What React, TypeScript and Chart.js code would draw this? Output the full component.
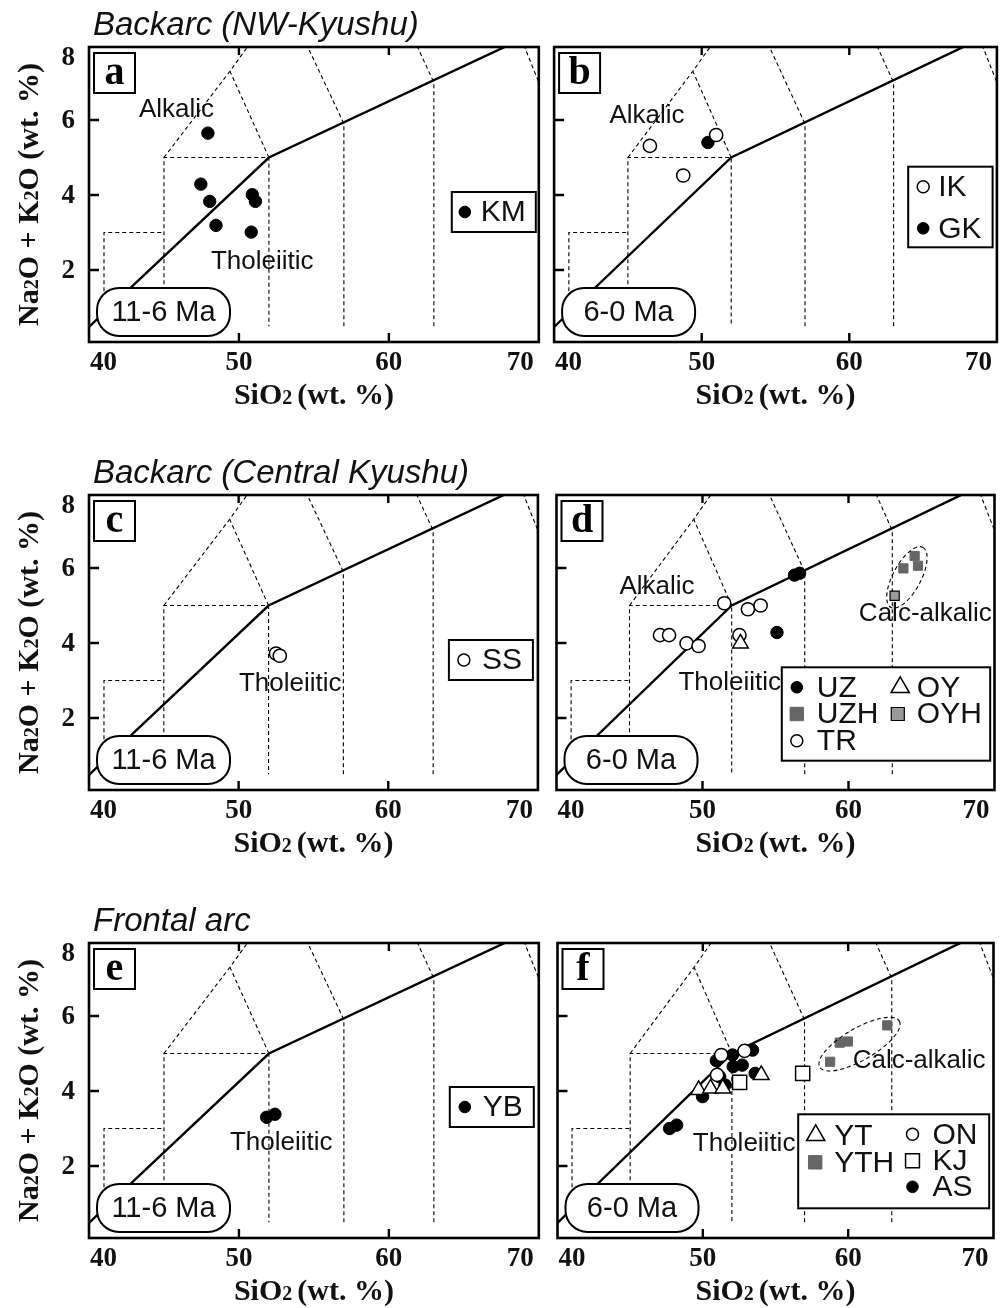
import React, { useEffect, useRef } from 'react';
import { Chart, registerables } from 'chart.js';

Chart.register(...registerables);

// ---- Whole-rock compositions: SiO2 and Na2O + K2O (wt. %) ----
// NW-Kyushu backarc
const KM_SIO2 = [47.93, 47.46, 48.05, 48.47, 50.89, 51.1, 50.82];
const KM_ALK = [5.65, 4.29, 3.83, 3.19, 4.01, 3.83, 3.01];
const IK_SIO2 = [46.49, 48.75, 50.98];
const IK_ALK = [5.31, 4.52, 5.6];
const GK_SIO2 = [50.42];
const GK_ALK = [5.4];
// Central Kyushu backarc
const SS_SIO2 = [52.5, 52.75];
const SS_ALK = [3.72, 3.66];
const UZ_SIO2 = [56.3, 56.65, 55.1];
const UZ_ALK = [5.81, 5.86, 4.28];
const UZH_SIO2 = [63.76, 64.53, 64.76];
const UZH_ALK = [5.99, 6.32, 6.06];
const TR_SIO2 = [47.09, 47.71, 48.91, 49.73, 51.49, 53.11, 53.98, 52.53];
const TR_ALK = [4.21, 4.21, 3.99, 3.92, 5.06, 4.9, 5.0, 4.21];
const OY_SIO2 = [52.6];
const OY_ALK = [3.99];
const OYH_SIO2 = [63.16];
const OYH_ALK = [5.26];
// Frontal arc
const YB_SIO2 = [51.85, 52.4];
const YB_ALK = [3.3, 3.38];
const YT_SIO2 = [49.71, 50.53, 51.38, 54.02];
const YT_ALK = [4.03, 4.07, 4.07, 4.43];
const YTH_SIO2 = [58.76, 59.42, 59.98, 62.69];
const YTH_ALK = [4.78, 5.29, 5.32, 5.75];
const ON_SIO2 = [51.27, 52.87, 50.98];
const ON_ALK = [4.96, 5.07, 4.43];
const KJ_SIO2 = [52.53, 56.87];
const KJ_ALK = [4.23, 4.47];
const AS_SIO2 = [50.93, 52.04, 52.09, 52.71, 53.42, 53.6, 51.16, 51.53, 49.98, 47.71, 48.2];
const AS_ALK = [4.81, 4.96, 4.65, 4.69, 5.09, 4.47, 4.38, 4.16, 3.85, 3.0, 3.09];

// ---- Axes ----
const SIO2_MIN = 40;
const SIO2_MAX = 70;
const ALK_MIN = 0.08;
const ALK_MAX = 7.947;
const SIO2_TICKS = [40, 50, 60, 70];
const ALK_TICKS = [2, 4, 6, 8];

// Le Bas et al. (1986) TAS field boundaries (dashed)
const TAS_BOUNDARIES: [number, number][][] = [
  [[41, 0.5], [41, 3], [45, 3]],
  [[45, 0.5], [45, 5], [52, 5], [52, 0.5]],
  [[45, 5], [49.4, 7.3], [53, 9.3]],
  [[52, 5], [49.4, 7.3]],
  [[57, 0.5], [57, 5.9], [53, 9.3]],
  [[63, 0.5], [63, 7], [57.6, 11.7]],
  [[69, 8], [77, 0]],
];
// Alkalic / tholeiitic divide (solid)
const ALKALIC_DIVIDE: [number, number][] = [[40, 0.48], [52, 5], [68, 8]];

const ROW_TITLES = ['Backarc (NW-Kyushu)', 'Backarc (Central Kyushu)', 'Frontal arc'];

// ---- Page geometry ----
const PLOT_TOP = [47, 495, 943];
const PLOT_H = 295;
const PLOT_LEFT = [89, 552];
const PLOT_W = [450, 449];
const CANVAS_X = [0, 546];
const CANVAS_W = [546, 459];
const CANVAS_Y = [0, 448, 896];
const CANVAS_H = [448, 448, 412];

const SANS = '"Liberation Sans", Arial, Helvetica, sans-serif';
const SERIF = '"Liberation Serif", "Times New Roman", Times, serif';

type Shape = 'circle' | 'triangle' | 'rect';
interface Marker { shape: Shape; r: number; legendR: number; fill: string; stroke: string; lw: number; }

const DOT: Marker = { shape: 'circle', r: 6.2, legendR: 5.8, fill: '#000', stroke: '#000', lw: 1 };
const RING: Marker = { shape: 'circle', r: 6.6, legendR: 6, fill: '#fff', stroke: '#000', lw: 1.5 };
const TRI: Marker = { shape: 'triangle', r: 9, legendR: 10.5, fill: '#fff', stroke: '#000', lw: 1.5 };
const GREY: Marker = { shape: 'rect', r: 6.5, legendR: 9.5, fill: '#666', stroke: '#666', lw: 1 };
const GREY_EDGED: Marker = { shape: 'rect', r: 6.5, legendR: 9.2, fill: '#9a9a9a', stroke: '#000', lw: 1.2 };
const SQUARE: Marker = { shape: 'rect', r: 10, legendR: 9.8, fill: '#fff', stroke: '#000', lw: 1.5 };

interface Suite { label: string; sio2: number[]; alk: number[]; marker: Marker; }
interface Note { text: string; x: number; y: number; }
interface LegendItem { label: string; mx: number; tx: number; ry: number; }
interface LegendBox { right: number; top: number; w: number; h: number; items: LegendItem[]; }
interface Ellipse { x: number; y: number; rx: number; ry: number; rot: number; }
interface PanelSpec {
  letter: string; period: string; row: number; col: number;
  suites: Suite[]; notes: Note[]; legend: LegendBox; ellipse?: Ellipse;
}

// suites are listed back to front
const PANELS: PanelSpec[] = [
  {
    letter: 'a', period: '11-6 Ma', row: 0, col: 0,
    suites: [{ label: 'KM', sio2: KM_SIO2, alk: KM_ALK, marker: DOT }],
    notes: [{ text: 'Alkalic', x: 43.33, y: 6.08 }, { text: 'Tholeiitic', x: 48.13, y: 2.03 }],
    legend: { right: 3, top: 145, w: 84, h: 40, items: [{ label: 'KM', mx: 13, tx: 29, ry: 20 }] },
  },
  {
    letter: 'b', period: '6-0 Ma', row: 0, col: 1,
    suites: [
      { label: 'GK', sio2: GK_SIO2, alk: GK_ALK, marker: DOT },
      { label: 'IK', sio2: IK_SIO2, alk: IK_ALK, marker: RING },
    ],
    notes: [{ text: 'Alkalic', x: 43.75, y: 5.91 }],
    legend: {
      right: 4.3, top: 119.7, w: 84.4, h: 80.6,
      items: [{ label: 'IK', mx: 15, tx: 30, ry: 20 }, { label: 'GK', mx: 15, tx: 30, ry: 61.6 }],
    },
  },
  {
    letter: 'c', period: '11-6 Ma', row: 1, col: 0,
    suites: [{ label: 'SS', sio2: SS_SIO2, alk: SS_ALK, marker: RING }],
    notes: [{ text: 'Tholeiitic', x: 50.02, y: 2.72 }],
    legend: { right: 5, top: 145, w: 84, h: 40, items: [{ label: 'SS', mx: 15, tx: 33, ry: 20 }] },
  },
  {
    letter: 'd', period: '6-0 Ma', row: 1, col: 1,
    suites: [
      { label: 'UZ', sio2: UZ_SIO2, alk: UZ_ALK, marker: DOT },
      { label: 'TR', sio2: TR_SIO2, alk: TR_ALK, marker: RING },
      { label: 'OY', sio2: OY_SIO2, alk: OY_ALK, marker: TRI },
      { label: 'UZH', sio2: UZH_SIO2, alk: UZH_ALK, marker: GREY },
      { label: 'OYH', sio2: OYH_SIO2, alk: OYH_ALK, marker: GREY_EDGED },
    ],
    notes: [
      { text: 'Alkalic', x: 44.31, y: 5.3 },
      { text: 'Tholeiitic', x: 48.35, y: 2.75 },
      { text: 'Calc-alkalic', x: 60.71, y: 4.59 },
    ],
    ellipse: { x: 64.0, y: 5.75, rx: 34, ry: 14, rot: -62 },
    legend: {
      right: 4.3, top: 172.3, w: 208.4, h: 93.4,
      items: [
        { label: 'UZ', mx: 15, tx: 35, ry: 20 },
        { label: 'UZH', mx: 15, tx: 35, ry: 46.7 },
        { label: 'TR', mx: 15, tx: 35, ry: 73.4 },
        { label: 'OY', mx: 118.4, tx: 135, ry: 20 },
        { label: 'OYH', mx: 116, tx: 135, ry: 46.7 },
      ],
    },
  },
  {
    letter: 'e', period: '11-6 Ma', row: 2, col: 0,
    suites: [{ label: 'YB', sio2: YB_SIO2, alk: YB_ALK, marker: DOT }],
    notes: [{ text: 'Tholeiitic', x: 49.4, y: 2.43 }],
    legend: { right: 5, top: 144, w: 84, h: 40, items: [{ label: 'YB', mx: 15, tx: 33, ry: 20 }] },
  },
  {
    letter: 'f', period: '6-0 Ma', row: 2, col: 1,
    suites: [
      { label: 'AS', sio2: AS_SIO2, alk: AS_ALK, marker: DOT },
      { label: 'ON', sio2: ON_SIO2, alk: ON_ALK, marker: RING },
      { label: 'YT', sio2: YT_SIO2, alk: YT_ALK, marker: TRI },
      { label: 'KJ', sio2: KJ_SIO2, alk: KJ_ALK, marker: SQUARE },
      { label: 'YTH', sio2: YTH_SIO2, alk: YTH_ALK, marker: GREY },
    ],
    notes: [
      { text: 'Tholeiitic', x: 49.31, y: 2.41 },
      { text: 'Calc-alkalic', x: 60.31, y: 4.62 },
    ],
    ellipse: { x: 60.78, y: 5.25, rx: 46, ry: 16, rot: -30 },
    legend: {
      right: 4.3, top: 171.3, w: 191, h: 94,
      items: [
        { label: 'YT', mx: 17.5, tx: 36, ry: 21 },
        { label: 'YTH', mx: 17, tx: 36, ry: 48 },
        { label: 'ON', mx: 114.3, tx: 134.3, ry: 20 },
        { label: 'KJ', mx: 114.3, tx: 134.3, ry: 46.5 },
        { label: 'AS', mx: 114.3, tx: 134.3, ry: 72.5 },
      ],
    },
  },
];

function drawMarker(ctx: CanvasRenderingContext2D, m: Marker, x: number, y: number, r: number) {
  ctx.save();
  ctx.beginPath();
  if (m.shape === 'circle') {
    ctx.arc(x, y, r, 0, Math.PI * 2);
  } else if (m.shape === 'triangle') {
    for (let i = 0; i < 3; i++) {
      const a = (i * 2 * Math.PI) / 3;
      const px = x + Math.sin(a) * r;
      const py = y - Math.cos(a) * r;
      if (i === 0) ctx.moveTo(px, py);
      else ctx.lineTo(px, py);
    }
    ctx.closePath();
  } else {
    const s = r * Math.SQRT1_2;
    ctx.rect(x - s, y - s, 2 * s, 2 * s);
  }
  ctx.fillStyle = m.fill;
  ctx.fill();
  ctx.lineWidth = m.lw;
  ctx.strokeStyle = m.stroke;
  ctx.stroke();
  ctx.restore();
}

interface Run { t: string; size: number; }

function runsWidth(ctx: CanvasRenderingContext2D, runs: Run[]) {
  let w = 0;
  for (const r of runs) {
    ctx.font = `bold ${r.size}px ${SERIF}`;
    w += ctx.measureText(r.t).width;
  }
  return w;
}

function drawRuns(ctx: CanvasRenderingContext2D, runs: Run[], cx: number, baseline: number) {
  let x = cx - runsWidth(ctx, runs) / 2;
  ctx.textAlign = 'left';
  ctx.textBaseline = 'alphabetic';
  for (const r of runs) {
    ctx.font = `bold ${r.size}px ${SERIF}`;
    ctx.fillText(r.t, x, baseline);
    x += ctx.measureText(r.t).width;
  }
}

const X_TITLE: Run[] = [{ t: 'SiO', size: 30 }, { t: '2 ', size: 20 }, { t: '(wt. %)', size: 30 }];
const Y_TITLE: Run[] = [
  { t: 'Na', size: 30 }, { t: '2', size: 20 }, { t: 'O + K', size: 30 },
  { t: '2', size: 20 }, { t: 'O (wt. %)', size: 30 },
];

function roundRect(ctx: CanvasRenderingContext2D, x: number, y: number, w: number, h: number, r: number) {
  ctx.beginPath();
  ctx.moveTo(x + r, y);
  ctx.lineTo(x + w - r, y);
  ctx.arcTo(x + w, y, x + w, y + r, r);
  ctx.lineTo(x + w, y + h - r);
  ctx.arcTo(x + w, y + h, x + w - r, y + h, r);
  ctx.lineTo(x + r, y + h);
  ctx.arcTo(x, y + h, x, y + h - r, r);
  ctx.lineTo(x, y + r);
  ctx.arcTo(x, y, x + r, y, r);
  ctx.closePath();
}

function decorPlugin(p: PanelSpec) {
  return {
    id: 'tasDecor',
    afterDatasetsDraw(chart: any) {
      const ctx: CanvasRenderingContext2D = chart.ctx;
      const a = chart.chartArea;
      const xs = chart.scales.x;
      const ys = chart.scales.y;
      const ink = '#111';
      ctx.save();

      // dashed envelope around the calc-alkalic group
      if (p.ellipse) {
        const e = p.ellipse;
        ctx.beginPath();
        ctx.ellipse(xs.getPixelForValue(e.x), ys.getPixelForValue(e.y), e.rx, e.ry, (e.rot * Math.PI) / 180, 0, Math.PI * 2);
        ctx.setLineDash([4, 3]);
        ctx.lineWidth = 1.1;
        ctx.strokeStyle = '#000';
        ctx.stroke();
        ctx.setLineDash([]);
      }

      // series-field names
      ctx.fillStyle = ink;
      ctx.font = `26px ${SANS}`;
      ctx.textAlign = 'left';
      ctx.textBaseline = 'alphabetic';
      for (const n of p.notes) {
        ctx.fillText(n.text, xs.getPixelForValue(n.x), ys.getPixelForValue(n.y));
      }

      // age label
      const pw = 133, ph = 48;
      const px0 = a.left + 8, py0 = a.bottom - 6 - ph;
      roundRect(ctx, px0, py0, pw, ph, 22);
      ctx.fillStyle = '#fff';
      ctx.fill();
      ctx.lineWidth = 2;
      ctx.strokeStyle = '#000';
      ctx.stroke();
      ctx.fillStyle = ink;
      ctx.font = `29px ${SANS}`;
      ctx.textAlign = 'center';
      ctx.textBaseline = 'middle';
      ctx.fillText(p.period, px0 + pw / 2, py0 + ph / 2 + 1);

      // panel letter
      const bx = a.left + 5, by = a.top + 6;
      ctx.fillStyle = '#fff';
      ctx.fillRect(bx, by, 41, 40);
      ctx.lineWidth = 2;
      ctx.strokeRect(bx, by, 41, 40);
      ctx.fillStyle = '#000';
      ctx.font = `bold 40px ${SERIF}`;
      ctx.textAlign = 'center';
      ctx.textBaseline = 'alphabetic';
      ctx.fillText(p.letter, bx + 20.5, by + 31);

      // legend
      const L = p.legend;
      const lx = a.right - L.right - L.w, ly = a.top + L.top;
      ctx.fillStyle = '#fff';
      ctx.fillRect(lx, ly, L.w, L.h);
      ctx.lineWidth = 2;
      ctx.strokeStyle = '#000';
      ctx.strokeRect(lx, ly, L.w, L.h);
      for (const it of L.items) {
        const s = p.suites.find((q) => q.label === it.label)!;
        drawMarker(ctx, s.marker, lx + it.mx, ly + it.ry, s.marker.legendR);
        ctx.fillStyle = ink;
        ctx.font = `30px ${SANS}`;
        ctx.textAlign = 'left';
        ctx.textBaseline = 'middle';
        ctx.fillText(it.label, lx + it.tx, ly + it.ry + 1);
      }

      // frame and inward ticks
      ctx.strokeStyle = '#000';
      ctx.lineWidth = 2.6;
      ctx.strokeRect(a.left, a.top, a.right - a.left, a.bottom - a.top);
      ctx.lineWidth = 2.4;
      ctx.beginPath();
      for (const v of SIO2_TICKS) {
        if (v <= SIO2_MIN || v >= SIO2_MAX) continue;
        const x = xs.getPixelForValue(v);
        ctx.moveTo(x, a.bottom);
        ctx.lineTo(x, a.bottom - 9);
        ctx.moveTo(x, a.top);
        ctx.lineTo(x, a.top + 8);
      }
      for (const v of ALK_TICKS) {
        if (v <= ALK_MIN || v >= ALK_MAX) continue;
        const y = ys.getPixelForValue(v);
        ctx.moveTo(a.left, y);
        ctx.lineTo(a.left + 10, y);
      }
      ctx.stroke();

      // tick labels
      ctx.fillStyle = ink;
      ctx.font = `bold 27px ${SERIF}`;
      ctx.textBaseline = 'middle';
      SIO2_TICKS.forEach((v, i) => {
        let x = xs.getPixelForValue(v);
        if (i === 0) { ctx.textAlign = 'left'; x = a.left + 1; }
        else if (i === SIO2_TICKS.length - 1) { ctx.textAlign = 'right'; x = a.right - 5; }
        else ctx.textAlign = 'center';
        ctx.fillText(String(v), x, a.bottom + 21);
      });
      if (p.col === 0) {
        ctx.textAlign = 'right';
        for (const v of ALK_TICKS) {
          const y = Math.min(Math.max(ys.getPixelForValue(v), a.top + 10), a.bottom - 10);
          ctx.fillText(String(v), a.left - 14, y + 1);
        }
      }

      // axis titles
      ctx.fillStyle = ink;
      drawRuns(ctx, X_TITLE, (a.left + a.right) / 2, a.bottom + 62);
      if (p.col === 0) {
        ctx.save();
        ctx.translate(38, (a.top + a.bottom) / 2);
        ctx.rotate(-Math.PI / 2);
        drawRuns(ctx, Y_TITLE, 0, 0);
        ctx.restore();
        ctx.font = `italic 33px ${SANS}`;
        ctx.textAlign = 'left';
        ctx.textBaseline = 'alphabetic';
        ctx.fillText(ROW_TITLES[p.row], 93, a.top - 12);
      }
      ctx.restore();
    },
  };
}

function buildConfig(p: PanelSpec): any {
  const n = p.suites.length;
  const pointSets = p.suites.map((s, i) => ({
    label: s.label,
    data: s.sio2.map((x, k) => ({ x, y: s.alk[k] })),
    pointStyle: s.marker.shape,
    pointRadius: s.marker.r,
    pointHoverRadius: s.marker.r,
    pointBackgroundColor: s.marker.fill,
    pointBorderColor: s.marker.stroke,
    pointBorderWidth: s.marker.lw,
    backgroundColor: s.marker.fill,
    borderColor: s.marker.stroke,
    showLine: false,
    order: n - i,
  }));
  const lineSet = (pts: [number, number][], dashed: boolean) => ({
    label: dashed ? 'TAS field' : 'Alkalic/tholeiitic divide',
    data: pts.map(([x, y]) => ({ x, y })),
    showLine: true,
    pointRadius: 0,
    pointHoverRadius: 0,
    borderColor: '#000',
    borderWidth: dashed ? 1.1 : 2.4,
    borderDash: dashed ? [4, 3] : [],
    fill: false,
    tension: 0,
    order: dashed ? 200 : 100,
  });
  const col = p.col, row = p.row;
  return {
    type: 'scatter',
    data: {
      datasets: [
        ...pointSets,
        lineSet(ALKALIC_DIVIDE, false),
        ...TAS_BOUNDARIES.map((b) => lineSet(b, true)),
      ],
    },
    options: {
      responsive: false,
      animation: false,
      devicePixelRatio: 1,
      events: [],
      layout: {
        padding: {
          left: PLOT_LEFT[col] - CANVAS_X[col],
          right: CANVAS_X[col] + CANVAS_W[col] - (PLOT_LEFT[col] + PLOT_W[col]),
          top: PLOT_TOP[row] - CANVAS_Y[row],
          bottom: CANVAS_Y[row] + CANVAS_H[row] - (PLOT_TOP[row] + PLOT_H),
        },
      },
      plugins: { legend: { display: false }, tooltip: { enabled: false }, title: { display: false } },
      scales: {
        x: { type: 'linear', min: SIO2_MIN, max: SIO2_MAX, display: false },
        y: { type: 'linear', min: ALK_MIN, max: ALK_MAX, display: false },
      },
    },
    plugins: [decorPlugin(p)],
  };
}

function TasPanel({ spec }: { spec: PanelSpec }) {
  const ref = useRef<HTMLCanvasElement>(null);
  useEffect(() => {
    if (!ref.current) return;
    const chart = new Chart(ref.current, buildConfig(spec));
    return () => chart.destroy();
  }, [spec]);
  const x = CANVAS_X[spec.col], y = CANVAS_Y[spec.row];
  const w = CANVAS_W[spec.col], h = CANVAS_H[spec.row];
  return (
    <canvas
      ref={ref}
      width={w}
      height={h}
      style={{ position: 'absolute', left: x, top: y, width: w, height: h }}
    />
  );
}

export default function App() {
  return (
    <div style={{ position: 'absolute', left: 0, top: 0, width: 1005, height: 1308, background: '#fff', overflow: 'hidden' }}>
      {PANELS.map((p) => (
        <TasPanel key={p.letter} spec={p} />
      ))}
    </div>
  );
}
